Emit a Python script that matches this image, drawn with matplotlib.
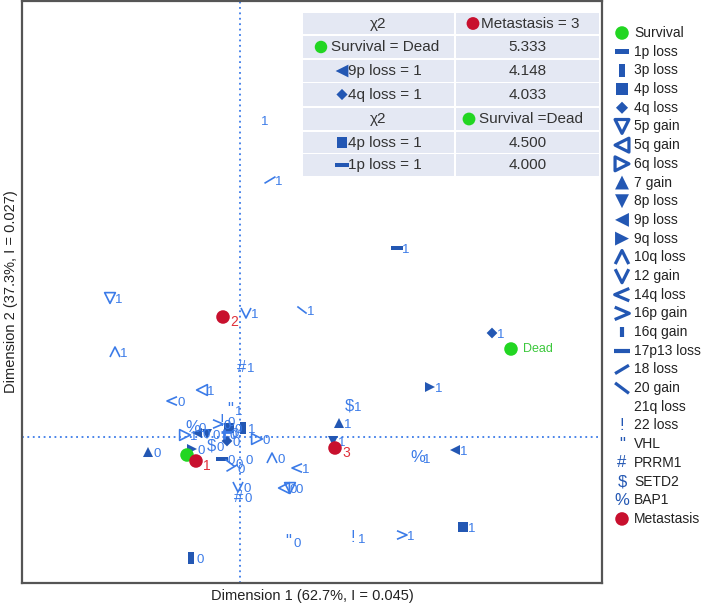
import matplotlib
matplotlib.use("Agg")
import matplotlib.pyplot as plt
from matplotlib.path import Path
from matplotlib.patches import Rectangle

plt.rcParams['font.family'] = ['Liberation Sans', 'DejaVu Sans']

# ---------------- data ----------------
legend_vars = ["Survival", "1p loss", "3p loss", "4p loss", "4q loss", "5p gain", "5q gain",
               "6q loss", "7 gain", "8p loss", "9p loss", "9q loss", "10q loss", "12 gain",
               "14q loss", "16p gain", "16q gain", "17p13 loss", "18 loss", "20 gain",
               "21q loss", "22 loss", "VHL", "PRRM1", "SETD2", "BAP1", "Metastasis"]

point_var = ["1p loss", "1p loss", "3p loss", "3p loss", "4p loss", "4p loss", "4q loss", "4q loss",
             "5p gain", "5p gain", "5q gain", "5q gain", "6q loss", "6q loss", "7 gain", "7 gain",
             "8p loss", "8p loss", "9p loss", "9p loss", "9q loss", "9q loss", "10q loss", "10q loss",
             "12 gain", "12 gain", "14q loss", "14q loss", "16p gain", "16p gain", "16q gain", "16q gain",
             "17p13 loss", "17p13 loss", "18 loss", "18 loss", "20 gain", "20 gain", "21q loss", "21q loss",
             "22 loss", "22 loss", "VHL", "VHL", "PRRM1", "PRRM1", "SETD2", "SETD2", "BAP1", "BAP1",
             "Survival", "Survival", "Metastasis", "Metastasis", "Metastasis"]
point_level = ["1", "0", "1", "0", "1", "0", "1", "0",
               "1", "0", "1", "0", "1", "0", "1", "0",
               "1", "0", "1", "0", "1", "0", "1", "0",
               "1", "0", "1", "0", "1", "0", "1", "0",
               "1", "0", "1", "0", "1", "0", "1", "0",
               "1", "0", "1", "0", "1", "0", "1", "0", "1", "0",
               "Dead", "", "1", "2", "3"]
dim1 = [1.57, -0.18, 0.03, -0.49, 2.23, -0.11, 2.52, -0.13,
        -1.30, 0.50, -0.38, 0.44, -0.55, 0.17, 0.99, -0.92,
        0.93, -0.33, 2.15, -0.43, 1.90, -0.48, -1.25, 0.32,
        0.06, -0.02, 0.57, -0.68, 1.62, -0.22, 1.90, -0.16,
        2.40, -0.14, 0.30, -0.08, 0.62, -0.10, 0.16, 0.00,
        1.13, -0.18, -0.10, 0.48, 0.02, -0.01, 1.09, -0.29, 1.78, -0.47,
        2.71, -0.53, -0.44, -0.17, 0.95]
dim2 = [1.89, -0.22, 0.09, -1.21, -0.90, 0.09, 1.04, -0.04,
        1.39, -0.51, 0.47, -0.51, 0.02, -0.02, 0.14, -0.15,
        -0.04, 0.03, -0.13, 0.04, 0.50, -0.12, 0.85, -0.21,
        1.24, -0.50, -0.31, 0.36, -0.98, 0.13, 3.30, 0.03,
        3.70, 0.05, 2.57, -0.31, 1.27, -0.26, 3.17, -0.22,
        -1.01, 0.16, 0.27, -1.05, 0.70, -0.60, 0.31, -0.09, -0.21, 0.10,
        0.88, -0.18, -0.24, 1.20, -0.11]

chi_head_1 = "Metastasis = 3"
chi_names_1 = ["Survival = Dead", "9p loss = 1", "4q loss = 1"]
chi_vars_1 = ["Survival", "9p loss", "4q loss"]
chi_vals_1 = [5.333, 4.148, 4.033]
chi_head_2 = "Survival =Dead"
chi_names_2 = ["4p loss = 1", "1p loss = 1"]
chi_vars_2 = ["4p loss", "1p loss"]
chi_vals_2 = [4.500, 4.000]

xlabel = "Dimension 1 (62.7%, I = 0.045)"
ylabel = "Dimension 2 (37.3%, I = 0.027)"

# ---------------- styles ----------------
DARK = '#2357b3'
LIGHT = '#3b7be8'
GREEN = '#22d622'
RED = '#c8102e'


def closed(v):
    return Path(list(v) + [v[0]], [Path.MOVETO] + [Path.LINETO] * (len(v) - 1) + [Path.CLOSEPOLY])


def opened(v):
    return Path(v, [Path.MOVETO] + [Path.LINETO] * (len(v) - 1))


HBAR = closed([(-1, -0.38), (1, -0.38), (1, 0.38), (-1, 0.38)])
VBAR = closed([(-0.42, -1), (0.42, -1), (0.42, 1), (-0.42, 1)])
CARET_UP = opened([(-1, -1), (0, 1), (1, -1)])
CARET_DN = opened([(-1, 1), (0, -1), (1, 1)])
LT = opened([(1, 0.85), (-1, 0), (1, -0.85)])
GT = opened([(-1, 0.85), (1, 0), (-1, -0.85)])
VLINE = opened([(0, -1), (0, 1)])
HLINE = opened([(-1, 0), (1, 0)])
SLASH = opened([(-1, -0.6), (1, 0.6)])
BSLASH = opened([(-1, 0.75), (1, -0.75)])

# kind, shape, fill, plot size, legend size
style = {
    "Survival": ('m', 'o', 'fill', 95, 95),
    "1p loss": ('m', HBAR, 'fill', 70, 105),
    "3p loss": ('m', VBAR, 'fill', 80, 90),
    "4p loss": ('m', 's', 'fill', 50, 72),
    "4q loss": ('m', 'D', 'fill', 30, 38),
    "5p gain": ('m', 'v', 'hollow', 60, 100),
    "5q gain": ('m', '<', 'hollow', 60, 100),
    "6q loss": ('m', '>', 'hollow', 60, 100),
    "7 gain": ('m', '^', 'fill', 52, 100),
    "8p loss": ('m', 'v', 'fill', 52, 100),
    "9p loss": ('m', '<', 'fill', 52, 100),
    "9q loss": ('m', '>', 'fill', 52, 100),
    "10q loss": ('m', CARET_UP, 'line', 52, 95),
    "12 gain": ('m', CARET_DN, 'line', 52, 95),
    "14q loss": ('m', LT, 'line', 52, 110),
    "16p gain": ('m', GT, 'line', 52, 110),
    "16q gain": ('m', VLINE, 'line', 50, 60),
    "17p13 loss": ('m', HLINE, 'line', 60, 125),
    "18 loss": ('m', SLASH, 'line', 63, 100),
    "20 gain": ('m', BSLASH, 'line', 45, 100),
    "21q loss": ('n', None, None, 0, 0),
    "22 loss": ('t', '!', None, 12, 12),
    "VHL": ('t', '"', None, 12, 12),
    "PRRM1": ('t', '#', None, 12, 12),
    "SETD2": ('t', '$', None, 12, 12),
    "BAP1": ('t', '%', None, 12, 12),
    "Metastasis": ('m', 'o', 'fill', 95, 95),
}


def var_color(var, legend):
    if var == "Survival":
        return GREEN
    if var == "Metastasis":
        return RED
    kind, shape, fill, _, _ = style[var]
    if legend or fill == 'fill':
        return DARK
    return LIGHT


def draw_symbol(a, var, x, y, legend=False, z=3, scale=1.0):
    kind, shape, fill, ps, ls = style[var]
    size = (ls if legend else ps) * scale
    c = var_color(var, legend)
    if kind == 'm':
        if fill == 'fill':
            a.scatter([x], [y], s=size, marker=shape, c=c, edgecolors='none', zorder=z)
        else:
            lw = (2.3 if legend else 1.2)
            if var in ("16q gain", "17p13 loss"):
                lw = 3.0 if legend else 2.0
            a.scatter([x], [y], s=size, marker=shape, facecolors='none', edgecolors=c,
                      linewidths=lw, zorder=z)
    elif kind == 't':
        a.text(x, y, shape, ha='center', va='center', fontsize=size, color=c, zorder=z)


W, H = 709, 608
fig = plt.figure(figsize=(W / 100, H / 100), dpi=100)
ax = fig.add_axes([22 / W, 1 - 583 / H, 580 / W, 582 / H])
ax.set_xlim(-2.18, 3.62)
ax.set_ylim(-1.46, 4.36)
ax.set_xticks([])
ax.set_yticks([])
for sp in ax.spines.values():
    sp.set_color('#555555')
    sp.set_linewidth(1.6)
ax.axhline(0, color=LIGHT, ls=(0, (1, 2)), lw=1.3, zorder=1)
ax.axvline(0, color=LIGHT, ls=(0, (1, 2)), lw=1.3, zorder=1)

order = [i for i, v in enumerate(point_var) if v not in ("Survival", "Metastasis")] + \
        [i for i, v in enumerate(point_var) if v == "Survival"] + \
        [i for i, v in enumerate(point_var) if v == "Metastasis"]
for i in order:
    v, lev, x, y = point_var[i], point_level[i], dim1[i], dim2[i]
    z = 5 if v in ("Survival", "Metastasis") else 3
    draw_symbol(ax, v, x, y, z=z)
    if not lev:
        continue
    if v == "Metastasis":
        ax.annotate(lev, (x, y), xytext=(8, -3.5), textcoords='offset points', ha='center',
                    va='center', fontsize=10, color='#e0303a', zorder=6)
    elif v == "Survival":
        ax.annotate(lev, (x, y), xytext=(8.5, 0), textcoords='offset points', ha='left',
                    va='center', fontsize=9, color='#3cc83c', zorder=6)
    else:
        ax.annotate(lev, (x, y), xytext=(6.5, -1.5), textcoords='offset points', ha='center',
                    va='center', fontsize=9.5, color=LIGHT, zorder=4)

ax.set_xlabel(xlabel, fontsize=10.5, color='#222222', labelpad=4)
ax.set_ylabel(ylabel, fontsize=10.5, color='#222222', labelpad=3)

# ---------------- chi-square table ----------------
tax = fig.add_axes([303 / W, 1 - 177 / H, 297 / W, 165 / H])
tax.set_xlim(303, 600)
tax.set_ylim(177, 12)
tax.axis('off')
tax.add_patch(Rectangle((303, 12), 297, 165, fc='white', ec='none', zorder=0))
rows = [(13, 34), (36, 58), (60, 82), (83, 106), (108, 130), (132, 153), (154, 176)]
cols = [(303, 454), (456, 599)]
for (y0, y1) in rows:
    for (x0, x1) in cols:
        tax.add_patch(Rectangle((x0, y0), x1 - x0, y1 - y0, fc='#e4e8f3', ec='none', zorder=1))
TC = '#333333'
TF = 11
c1 = (303 + 454) / 2
c2 = (456 + 599) / 2
ymid = [(a + b) / 2 for a, b in rows]
tax.text(c1, ymid[0], "χ2", ha='center', va='center', fontsize=TF, color=TC, zorder=3)
tax.scatter([473], [ymid[0]], s=85, marker='o', c=RED, edgecolors='none', zorder=3)
tax.text(481, ymid[0], chi_head_1, ha='left', va='center', fontsize=TF, color=TC, zorder=3)
for k in range(3):
    yy = ymid[1 + k]
    v = chi_vars_1[k]
    if v == "Survival":
        mx, tx = 321, 331
    else:
        mx, tx = 342, 348
    draw_symbol(tax, v, mx, yy, legend=True, z=3, scale=0.85)
    tax.text(tx, yy, chi_names_1[k], ha='left', va='center', fontsize=TF, color=TC, zorder=3)
    tax.text(c2, yy, f"{chi_vals_1[k]:.3f}", ha='center', va='center', fontsize=TF, color=TC, zorder=3)
tax.text(c1, ymid[4], "χ2", ha='center', va='center', fontsize=TF, color=TC, zorder=3)
tax.scatter([469], [ymid[4]], s=85, marker='o', c=GREEN, edgecolors='none', zorder=3)
tax.text(479, ymid[4], chi_head_2, ha='left', va='center', fontsize=TF, color=TC, zorder=3)
for k in range(2):
    yy = ymid[5 + k]
    draw_symbol(tax, chi_vars_2[k], 342, yy, legend=True, z=3, scale=0.85)
    tax.text(348, yy, chi_names_2[k], ha='left', va='center', fontsize=TF, color=TC, zorder=3)
    tax.text(c2, yy, f"{chi_vals_2[k]:.3f}", ha='center', va='center', fontsize=TF, color=TC, zorder=3)

# ---------------- legend ----------------
lax = fig.add_axes([605 / W, 0, 104 / W, 1])
lax.set_xlim(605, 709)
lax.set_ylim(608, 0)
lax.axis('off')
for i, v in enumerate(legend_vars):
    yy = 33 + i * 18.69
    draw_symbol(lax, v, 622, yy, legend=True)
    lax.text(634, yy, v, ha='left', va='center', fontsize=10, color='#222222')

fig.savefig('out.png', dpi=100)
